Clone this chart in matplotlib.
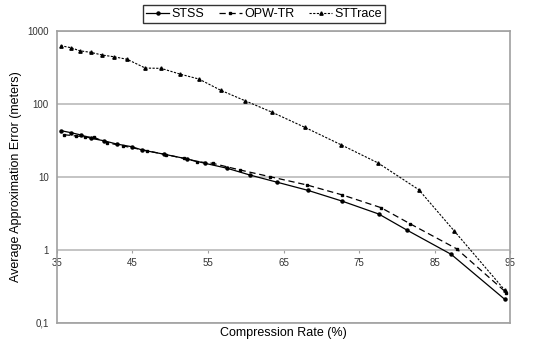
import matplotlib
matplotlib.use("Agg")
import matplotlib.pyplot as plt

plt.rcParams["font.family"] = ["Liberation Sans", "DejaVu Sans"]

# compression rate (%) / average error (m)
stss_x = [35.6, 36.9, 38.2, 39.5, 41.2, 42.9, 44.9, 46.3, 49.2, 52.2, 54.6, 57.5,
          60.6, 64.2, 68.2, 72.7, 77.6, 81.3, 87.2, 94.3]
stss_y = [43, 40.4, 37.6, 33.9, 31.4, 28.3, 26, 23.4, 20.5, 17.7, 15.4, 13.2,
          10.6, 8.45, 6.57, 4.69, 3.11, 1.88, 0.87, 0.21]

opw_x = [35.9, 37.5, 38.7, 39.9, 41.6, 43.8, 46.9, 49.4, 51.8, 53.6, 55.6, 59.2,
         63.2, 68.1, 72.8, 77.9, 81.8, 87.9, 94.5]
opw_y = [38, 36.5, 35.6, 35, 29.5, 26.6, 22.9, 20.3, 18.0, 16.2, 15.4, 12.5,
         10.1, 7.77, 5.67, 3.80, 2.27, 1.04, 0.26]

sttrace_x = [35.5, 36.9, 38.0, 39.5, 41.0, 42.5, 44.3, 46.7, 48.8, 51.3, 53.8, 56.7,
             59.9, 63.5, 67.8, 72.6, 77.5, 82.9, 87.6, 94.3]
sttrace_y = [630, 590, 537, 510, 469, 445, 410, 311, 308, 257, 220, 154,
             111, 77, 48, 27.7, 15.6, 6.7, 1.82, 0.28]

x_ticks = [35, 45, 55, 65, 75, 85, 95]
y_ticks = [0.1, 1, 10, 100, 1000]
y_labels = ["0,1", "1", "10", "100", "1000"]

fig = plt.figure(figsize=(5.37, 3.45), dpi=100)
ax = fig.add_axes([0.106, 0.064, 0.844, 0.846])

ax.plot(stss_x, stss_y, "-", color="black", lw=0.9, marker="o", ms=2.2, label="STSS")
ax.plot(opw_x, opw_y, "--", color="black", lw=0.9, marker="s", ms=2.0,
        dashes=(5, 3), label="OPW-TR")
ax.plot(sttrace_x, sttrace_y, ":", color="black", lw=0.8, marker="^", ms=2.4,
        dashes=(2, 1.3), label="STTrace")

ax.set_yscale("log")
ax.set_ylim(0.1, 1000)
ax.set_xlim(35, 95)
ax.set_yticks(y_ticks)
ax.set_yticklabels(y_labels)
ax.minorticks_off()
ax.tick_params(axis="y", length=0, labelsize=7, colors="#333333", pad=6)
ax.tick_params(axis="x", bottom=False, labelbottom=False)
ax.grid(axis="y", color="#bfbfbf", lw=1.3)
ax.set_axisbelow(True)
for s in ax.spines.values():
    s.set_color("#a0a0a0")
    s.set_linewidth(1.2)

# category labels sit on the y=1 line, like the original
sec = ax.secondary_xaxis(0.25)
sec.set_xticks(x_ticks)
sec.spines["bottom"].set_visible(False)
sec.tick_params(length=2, color="#a0a0a0", labelsize=7, labelcolor="#333333", pad=4)

ax.set_xlabel("Compression Rate (%)", fontsize=9, labelpad=3)
ax.set_ylabel("Average Approximation Error (meters)", fontsize=9, labelpad=4)

fig.legend(loc="center", bbox_to_anchor=(264 / 537, 1 - 14 / 345), ncol=3,
           fontsize=9, frameon=True, fancybox=False, edgecolor="black",
           handlelength=1.8, handletextpad=0.2, columnspacing=1.2,
           borderpad=0.25, borderaxespad=0)

fig.savefig("out.png", dpi=100)
